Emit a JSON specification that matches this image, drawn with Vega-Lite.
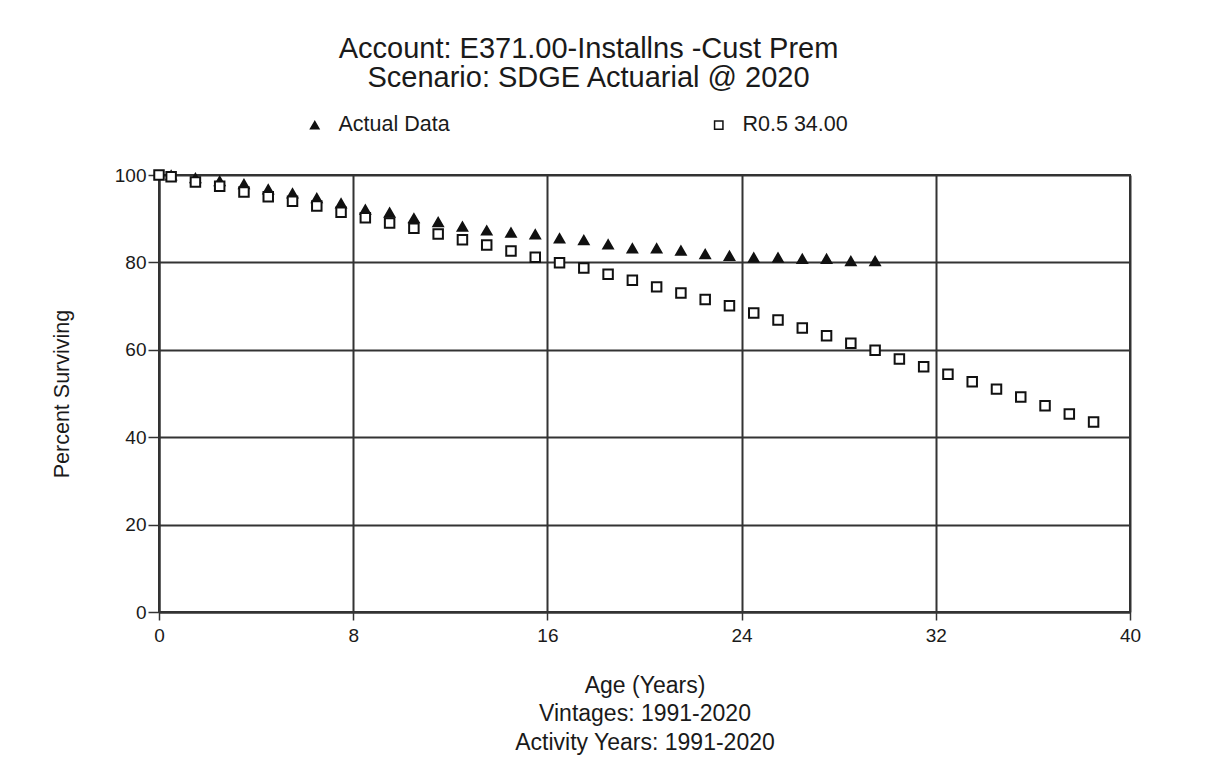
{
  "$schema": "https://vega.github.io/schema/vega-lite/v6.json",
  "autosize": "none",
  "width": 971,
  "height": 437,
  "padding": {"left": 159, "top": 175, "right": 95, "bottom": 171},
  "background": "white",
  "title": {
    "text": ["Account: E371.00-Installns -Cust Prem", "Scenario: SDGE Actuarial @ 2020"],
    "fontSize": 29,
    "fontWeight": "normal",
    "font": "Liberation Sans",
    "color": "#1a1a1a",
    "lineHeight": 29,
    "anchor": "middle",
    "dx": -56,
    "offset": 21
  },
  "data": {
    "values": [
      {"age": 0.5, "pct": 99.9, "series": "Actual Data"},
      {"age": 1.5, "pct": 99.3, "series": "Actual Data"},
      {"age": 2.5, "pct": 98.6, "series": "Actual Data"},
      {"age": 3.5, "pct": 97.9, "series": "Actual Data"},
      {"age": 4.5, "pct": 96.7, "series": "Actual Data"},
      {"age": 5.5, "pct": 95.8, "series": "Actual Data"},
      {"age": 6.5, "pct": 94.7, "series": "Actual Data"},
      {"age": 7.5, "pct": 93.5, "series": "Actual Data"},
      {"age": 8.5, "pct": 92.1, "series": "Actual Data"},
      {"age": 9.5, "pct": 91.4, "series": "Actual Data"},
      {"age": 10.5, "pct": 90.1, "series": "Actual Data"},
      {"age": 11.5, "pct": 89.2, "series": "Actual Data"},
      {"age": 12.5, "pct": 88.2, "series": "Actual Data"},
      {"age": 13.5, "pct": 87.3, "series": "Actual Data"},
      {"age": 14.5, "pct": 86.8, "series": "Actual Data"},
      {"age": 15.5, "pct": 86.4, "series": "Actual Data"},
      {"age": 16.5, "pct": 85.5, "series": "Actual Data"},
      {"age": 17.5, "pct": 85.1, "series": "Actual Data"},
      {"age": 18.5, "pct": 84.1, "series": "Actual Data"},
      {"age": 19.5, "pct": 83.2, "series": "Actual Data"},
      {"age": 20.5, "pct": 83.2, "series": "Actual Data"},
      {"age": 21.5, "pct": 82.7, "series": "Actual Data"},
      {"age": 22.5, "pct": 81.9, "series": "Actual Data"},
      {"age": 23.5, "pct": 81.5, "series": "Actual Data"},
      {"age": 24.5, "pct": 81.1, "series": "Actual Data"},
      {"age": 25.5, "pct": 81.1, "series": "Actual Data"},
      {"age": 26.5, "pct": 80.8, "series": "Actual Data"},
      {"age": 27.5, "pct": 80.8, "series": "Actual Data"},
      {"age": 28.5, "pct": 80.3, "series": "Actual Data"},
      {"age": 29.5, "pct": 80.3, "series": "Actual Data"},
      {"age": 0, "pct": 100, "series": "R0.5 34.00"},
      {"age": 0.5, "pct": 99.6, "series": "R0.5 34.00"},
      {"age": 1.5, "pct": 98.4, "series": "R0.5 34.00"},
      {"age": 2.5, "pct": 97.4, "series": "R0.5 34.00"},
      {"age": 3.5, "pct": 96.1, "series": "R0.5 34.00"},
      {"age": 4.5, "pct": 95.0, "series": "R0.5 34.00"},
      {"age": 5.5, "pct": 94.0, "series": "R0.5 34.00"},
      {"age": 6.5, "pct": 92.9, "series": "R0.5 34.00"},
      {"age": 7.5, "pct": 91.5, "series": "R0.5 34.00"},
      {"age": 8.5, "pct": 90.2, "series": "R0.5 34.00"},
      {"age": 9.5, "pct": 89.0, "series": "R0.5 34.00"},
      {"age": 10.5, "pct": 87.8, "series": "R0.5 34.00"},
      {"age": 11.5, "pct": 86.5, "series": "R0.5 34.00"},
      {"age": 12.5, "pct": 85.2, "series": "R0.5 34.00"},
      {"age": 13.5, "pct": 84.0, "series": "R0.5 34.00"},
      {"age": 14.5, "pct": 82.6, "series": "R0.5 34.00"},
      {"age": 15.5, "pct": 81.2, "series": "R0.5 34.00"},
      {"age": 16.5, "pct": 79.9, "series": "R0.5 34.00"},
      {"age": 17.5, "pct": 78.7, "series": "R0.5 34.00"},
      {"age": 18.5, "pct": 77.3, "series": "R0.5 34.00"},
      {"age": 19.5, "pct": 75.9, "series": "R0.5 34.00"},
      {"age": 20.5, "pct": 74.4, "series": "R0.5 34.00"},
      {"age": 21.5, "pct": 73.0, "series": "R0.5 34.00"},
      {"age": 22.5, "pct": 71.5, "series": "R0.5 34.00"},
      {"age": 23.5, "pct": 70.1, "series": "R0.5 34.00"},
      {"age": 24.5, "pct": 68.4, "series": "R0.5 34.00"},
      {"age": 25.5, "pct": 66.8, "series": "R0.5 34.00"},
      {"age": 26.5, "pct": 65.0, "series": "R0.5 34.00"},
      {"age": 27.5, "pct": 63.2, "series": "R0.5 34.00"},
      {"age": 28.5, "pct": 61.5, "series": "R0.5 34.00"},
      {"age": 29.5, "pct": 59.9, "series": "R0.5 34.00"},
      {"age": 30.5, "pct": 57.9, "series": "R0.5 34.00"},
      {"age": 31.5, "pct": 56.1, "series": "R0.5 34.00"},
      {"age": 32.5, "pct": 54.4, "series": "R0.5 34.00"},
      {"age": 33.5, "pct": 52.7, "series": "R0.5 34.00"},
      {"age": 34.5, "pct": 51.0, "series": "R0.5 34.00"},
      {"age": 35.5, "pct": 49.2, "series": "R0.5 34.00"},
      {"age": 36.5, "pct": 47.2, "series": "R0.5 34.00"},
      {"age": 37.5, "pct": 45.3, "series": "R0.5 34.00"},
      {"age": 38.5, "pct": 43.5, "series": "R0.5 34.00"}
    ]
  },
  "mark": {"type": "point", "size": 90, "stroke": "#111", "strokeWidth": 2, "opacity": 1, "filled": true},
  "encoding": {
    "x": {
      "field": "age", "type": "quantitative",
      "scale": {"domain": [0, 40], "nice": false, "zero": false},
      "axis": {
        "values": [0, 8, 16, 24, 32, 40],
        "title": ["Age (Years)", "Vintages: 1991-2020", "Activity Years: 1991-2020"],
        "titleFontSize": 23,
        "titleFontWeight": "normal",
        "titleLineHeight": 28.5,
        "titleBaseline": "top",
        "titleX": 485.5,
        "titleY": 62,
        "titleAnchor": null,
        "titleAlign": "center",
        "tickSize": 8,
        "labelPadding": 6
      }
    },
    "y": {
      "field": "pct", "type": "quantitative",
      "scale": {"domain": [0, 100], "nice": false},
      "axis": {
        "values": [0, 20, 40, 60, 80, 100],
        "title": "Percent Surviving",
        "titleFontSize": 21.5,
        "titleFontWeight": "normal",
        "titleX": -97,
        "titleY": 218.5,
        "titleAngle": -90,
        "titleAlign": "center",
        "titleBaseline": "middle",
        "tickSize": 11,
        "labelPadding": 2
      }
    },
    "shape": {
      "field": "series", "type": "nominal",
      "scale": {"domain": ["Actual Data", "R0.5 34.00"], "range": ["triangle-up", "square"]},
      "legend": {
        "title": null,
        "orient": "none",
        "direction": "horizontal",
        "legendX": 145,
        "legendY": -61,
        "labelFontSize": 21.5,
        "labelFont": "Liberation Sans",
        "labelColor": "#1a1a1a",
        "symbolSize": 70,
        "symbolStrokeWidth": 1.5,
        "labelOffset": 13,
        "columnPadding": 258
      }
    },
    "fill": {
      "field": "series", "type": "nominal",
      "scale": {"domain": ["Actual Data", "R0.5 34.00"], "range": ["#111", "white"]},
      "legend": {
        "title": null,
        "orient": "none",
        "direction": "horizontal",
        "legendX": 145,
        "legendY": -61,
        "labelFontSize": 21.5,
        "labelFont": "Liberation Sans",
        "labelColor": "#1a1a1a",
        "symbolSize": 70,
        "symbolStrokeWidth": 1.5,
        "labelOffset": 13,
        "columnPadding": 258
      }
    }
  },
  "config": {
    "font": "Liberation Sans",
    "view": {"stroke": "#333", "strokeWidth": 2},
    "axis": {
      "domainColor": "#333",
      "domainWidth": 2,
      "gridColor": "#333",
      "gridWidth": 2,
      "gridOpacity": 1,
      "tickColor": "#333",
      "tickWidth": 1.5,
      "labelFontSize": 19,
      "labelColor": "#1a1a1a",
      "labelFont": "Liberation Sans",
      "titleColor": "#1a1a1a",
      "titleFont": "Liberation Sans",
      "labelFlush": false,
      "labelOverlap": false
    }
  }
}
